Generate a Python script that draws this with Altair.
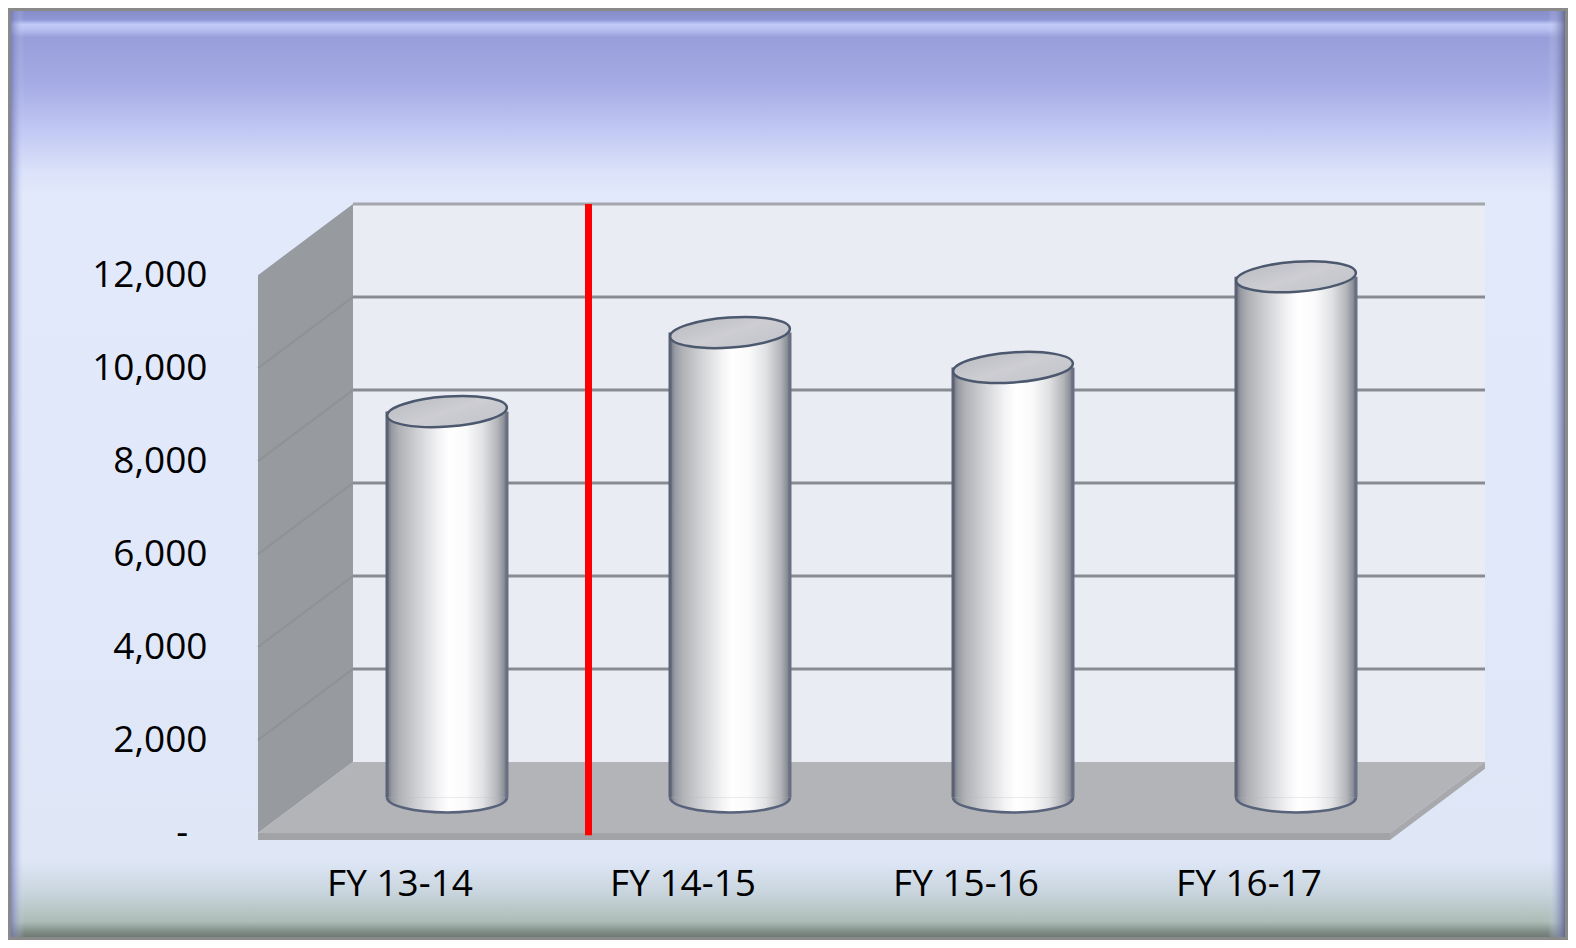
import json
import altair as alt
import pandas as pd

# ---------------- data ----------------
categories = ["FY 13-14", "FY 14-15", "FY 15-16", "FY 16-17"]
values = [8300, 10000, 9250, 11200]
y_ticks = [0, 2000, 4000, 6000, 8000, 10000, 12000]
wall_top = 12000

# ---------------- geometry / style constants ----------------
DX = 0.3357          # 3-D depth offset along x (category units)
DY = 1530            # 3-D depth offset along y (value units)
BW = 0.424           # cylinder width (category units)
Y_MIN = -150         # floor slab thickness below zero
N = len(categories)
W, H = 1227, 636
PAD = {"left": 250, "top": 196, "right": 83, "bottom": 100}
PX_PER_X = W / (N + DX)
FONT = "Open Sans"

xs = alt.Scale(domain=[0, N + DX], nice=False, zero=False)
ys = alt.Scale(domain=[Y_MIN, wall_top + DY], nice=False, zero=False)

# zero shown as an accounting-style dash, padded on the right
zero_label = "-" + "\u00a0" * 2 + "\u200b"
y_axis = alt.Axis(
    values=y_ticks, title=None, grid=False, ticks=False, domain=False, zindex=5,
    labelFont=FONT, labelFontSize=37, labelColor="#000000", labelPadding=51,
    labelExpr=f"datum.value == 0 ? '{zero_label}' : format(datum.value, ',')",
)
x_axis = alt.Axis(
    values=[i + 0.5 for i in range(N)], title=None, grid=False, ticks=False, domain=False,
    zindex=5, labelFont=FONT, labelFontSize=37, labelColor="#000000", labelPadding=26,
    labelAngle=0, labelExpr=f"{json.dumps(categories)}[floor(datum.value)]",
)

def X(f):
    return alt.X(f, type="quantitative", scale=xs, axis=x_axis)

def Y(f):
    return alt.Y(f, type="quantitative", scale=ys, axis=y_axis)

one = pd.DataFrame({"a": [0]})

# ---------------- background frame ----------------
frame = alt.Chart(one).mark_rect(
    fill=alt.Gradient(
        gradient="linear", x1=0, y1=0, x2=0, y2=1,
        stops=[
            alt.GradientStop(offset=0.0, color="#858bc6"),
            alt.GradientStop(offset=0.011, color="#8f97d6"),
            alt.GradientStop(offset=0.016, color="#c2caf8"),
            alt.GradientStop(offset=0.022, color="#b6bef0"),
            alt.GradientStop(offset=0.03, color="#989ed9"),
            alt.GradientStop(offset=0.08, color="#a5abe4"),
            alt.GradientStop(offset=0.13, color="#c1c8f3"),
            alt.GradientStop(offset=0.175, color="#dbe2fa"),
            alt.GradientStop(offset=0.2, color="#e2e9fb"),
            alt.GradientStop(offset=0.915, color="#dfe7f7"),
            alt.GradientStop(offset=0.952, color="#c8d4dc"),
            alt.GradientStop(offset=0.982, color="#adbcb6"),
            alt.GradientStop(offset=0.993, color="#7f8c86"),
            alt.GradientStop(offset=1.0, color="#6a7370"),
        ],
    ),
    stroke="#8a8a8a", strokeWidth=3,
).encode(
    x=alt.value(-PAD["left"] + 1.5), x2=alt.value(W + PAD["right"] - 1.5),
    y=alt.value(-PAD["top"] + 1.5), y2=alt.value(H + PAD["bottom"] - 1.5),
)

left_bevel = alt.Chart(one).mark_rect(
    fill=alt.Gradient(
        gradient="linear", x1=0, y1=0, x2=1, y2=0,
        stops=[
            alt.GradientStop(offset=0.0, color="rgba(110,118,180,0.75)"),
            alt.GradientStop(offset=0.5, color="rgba(150,160,210,0.35)"),
            alt.GradientStop(offset=1.0, color="rgba(220,228,250,0)"),
        ],
    ),
).encode(
    x=alt.value(-PAD["left"] + 3), x2=alt.value(-PAD["left"] + 16),
    y=alt.value(-PAD["top"] + 3), y2=alt.value(H + PAD["bottom"] - 3),
)

right_bevel = alt.Chart(one).mark_rect(
    fill=alt.Gradient(
        gradient="linear", x1=0, y1=0, x2=1, y2=0,
        stops=[
            alt.GradientStop(offset=0.0, color="rgba(220,228,250,0)"),
            alt.GradientStop(offset=0.6, color="rgba(140,148,195,0.55)"),
            alt.GradientStop(offset=1.0, color="rgba(95,104,140,0.9)"),
        ],
    ),
).encode(
    x=alt.value(W + PAD["right"] - 20), x2=alt.value(W + PAD["right"] - 3),
    y=alt.value(-PAD["top"] + 3), y2=alt.value(H + PAD["bottom"] - 3),
)

# ---------------- walls ----------------
side_df = pd.DataFrame({"x": [0, DX], "y": [0, DY], "y2": [wall_top, wall_top + DY]})
side_wall = alt.Chart(side_df).mark_area(color="#979a9e", opacity=1).encode(
    x=X("x"), y=Y("y"), y2="y2")

side_grid_df = pd.DataFrame({
    "x": [0] * (len(y_ticks) - 2), "x2": [DX] * (len(y_ticks) - 2),
    "y": y_ticks[1:-1], "y2": [v + DY for v in y_ticks[1:-1]],
})
side_grid = alt.Chart(side_grid_df).mark_rule(color="#8b8e92", strokeWidth=2, opacity=0.7).encode(
    x=X("x"), x2="x2", y=Y("y"), y2="y2")

back_df = pd.DataFrame({"x": [DX], "x2": [N + DX], "y": [DY], "y2": [wall_top + DY]})
back_wall = alt.Chart(back_df).mark_rect(color="#eaecf3").encode(
    x=X("x"), x2="x2", y=Y("y"), y2="y2")

grid_df = pd.DataFrame({"y": [v + DY for v in y_ticks[1:-1]], "x": DX, "x2": N + DX})
back_grid = alt.Chart(grid_df).mark_rule(color="#888b91", strokeWidth=3).encode(
    x=X("x"), x2="x2", y=Y("y"))

top_df = pd.DataFrame({"y": [wall_top + DY], "x": [DX], "x2": [N + DX]})
back_top = alt.Chart(top_df).mark_rule(color="#a3a6ac", strokeWidth=3).encode(
    x=X("x"), x2="x2", y=Y("y"))

# ---------------- floor ----------------
floor_df = pd.DataFrame({"x": [0, DX, N, N + DX], "y": [0, 0, 0, DY], "y2": [0, DY, DY, DY]})
floor_top = alt.Chart(floor_df).mark_area(color="#b2b4b8", opacity=1).encode(
    x=X("x"), y=Y("y"), y2="y2")

floor_front_df = pd.DataFrame({"x": [0], "x2": [N], "y": [Y_MIN], "y2": [0]})
floor_front = alt.Chart(floor_front_df).mark_rect(color="#a1a3a7").encode(
    x=X("x"), x2="x2", y=Y("y"), y2="y2")

floor_side_df = pd.DataFrame({"x": [N, N + DX], "y": [Y_MIN, Y_MIN + DY], "y2": [0, DY]})
floor_side = alt.Chart(floor_side_df).mark_area(color="#a7a9ad", opacity=1).encode(
    x=X("x"), y=Y("y"), y2="y2")

# ---------------- cylinders ----------------
centers = [i + 0.5 + DX / 2 for i in range(N)]
cyl_df = pd.DataFrame({
    "cat": categories,
    "c": centers,
    "left": [c - BW / 2 for c in centers],
    "right": [c + BW / 2 for c in centers],
    "base": [DY / 2] * N,
    "top": [v + DY / 2 for v in values],
})

body_grad = alt.Gradient(
    gradient="linear", x1=0, y1=0, x2=1, y2=0,
    stops=[
        alt.GradientStop(offset=0.0, color="#6a7080"),
        alt.GradientStop(offset=0.04, color="#979aa2"),
        alt.GradientStop(offset=0.1, color="#b0b1b5"),
        alt.GradientStop(offset=0.27, color="#d3d4d7"),
        alt.GradientStop(offset=0.43, color="#f3f3f5"),
        alt.GradientStop(offset=0.52, color="#ffffff"),
        alt.GradientStop(offset=0.66, color="#fafafb"),
        alt.GradientStop(offset=0.8, color="#e0e1e3"),
        alt.GradientStop(offset=0.92, color="#b3b5b9"),
        alt.GradientStop(offset=0.97, color="#8f939c"),
        alt.GradientStop(offset=1.0, color="#6c7282"),
    ],
)

ell_size = (BW * PX_PER_X) ** 2

body = alt.Chart(cyl_df).mark_rect(fill=body_grad).encode(
    x=X("left"), x2="right", y=Y("base"), y2="top")

bottom_ell = alt.Chart(cyl_df).mark_point(
    shape="M -1 0 A 1 0.25 0 0 0 1 0",
    size=ell_size, filled=True, fill=body_grad, stroke="#58627a",
    strokeWidth=2.5, opacity=1,
).encode(x=X("c"), y=Y("base"))

left_edge = alt.Chart(cyl_df).mark_rule(color="#5c6274", strokeWidth=3).encode(
    x=X("left"), y=Y("base"), y2="top")
right_edge = alt.Chart(cyl_df).mark_rule(color="#6a7082", strokeWidth=3).encode(
    x=X("right"), y=Y("base"), y2="top")

top_ell = alt.Chart(cyl_df).mark_point(
    shape="M -1 0 A 1 0.25 0 1 1 1 0 A 1 0.25 0 1 1 -1 0 Z",
    size=ell_size, filled=True,
    fill=alt.Gradient(
        gradient="linear", x1=0, y1=0, x2=1, y2=1,
        stops=[
            alt.GradientStop(offset=0.0, color="#b9bcc2"),
            alt.GradientStop(offset=0.5, color="#cdcdd2"),
            alt.GradientStop(offset=1.0, color="#c0c4ca"),
        ],
    ),
    stroke="#4b586e", strokeWidth=2.5, opacity=1, angle=356,
).encode(x=X("c"), y=Y("top"))

# ---------------- red divider ----------------
divider_df = pd.DataFrame({"x": [1 + DX / 2], "y": [Y_MIN + 100], "y2": [wall_top + DY]})
divider = alt.Chart(divider_df).mark_rule(color="#ff0000", strokeWidth=7).encode(
    x=X("x"), y=Y("y"), y2="y2")

chart = alt.layer(
    frame, left_bevel, right_bevel,
    side_wall, side_grid, back_wall, back_grid, back_top,
    floor_top, floor_front, floor_side,
    bottom_ell, body, left_edge, right_edge, top_ell,
    divider,
).properties(
    width=W, height=H,
    padding=PAD,
    autosize=alt.AutoSizeParams(type="none"),
).configure_view(stroke=None).configure(background="#ffffff")

chart.save("out.html", embed_options={"renderer": "svg", "actions": False})
